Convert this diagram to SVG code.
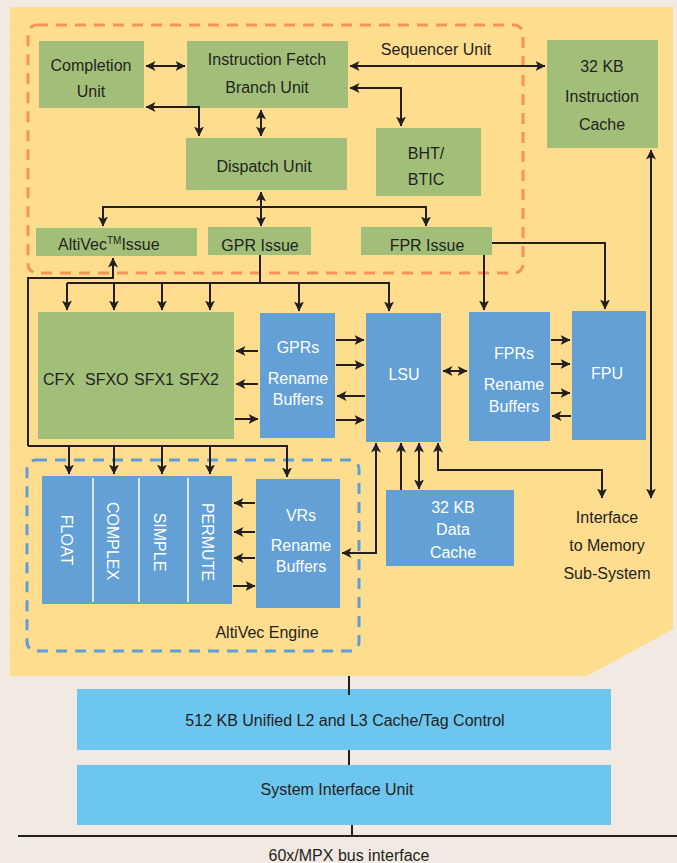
<svg xmlns="http://www.w3.org/2000/svg" width="677" height="863" viewBox="0 0 677 863">
<defs>
<style>
.g{fill:#A2BF7A}
.b{fill:#62A0D6}
.lb{fill:#6DC6EF}
text{font-family:"Liberation Sans",Arial,sans-serif;font-size:16px;fill:#231F20}
.c{text-anchor:middle}
.w{fill:#FFFFFF}
.ln{fill:none;stroke:#231F20;stroke-width:2}
.ar{marker-end:url(#ah)}
.ar2{marker-start:url(#ah);marker-end:url(#ah)}
.as{marker-start:url(#ah)}
</style>
<marker id="ah" viewBox="0 0 10 10" refX="9.5" refY="5" markerWidth="10" markerHeight="10" markerUnits="userSpaceOnUse" orient="auto-start-reverse">
<path d="M0,0 L10,5 L0,10 L2.5,5 z" fill="#231F20"/>
</marker>
</defs>
<rect x="0" y="0" width="677" height="863" fill="#F1E9E2"/>
<polygon points="10,7 673,7 673,629 587,676 10,676" fill="#FEDD8F"/>
<rect x="28" y="25" width="495" height="248" rx="9" fill="none" stroke="#F6935A" stroke-width="3" stroke-dasharray="11,8"/>
<rect x="27" y="460" width="332" height="191" rx="9" fill="none" stroke="#5E9ED8" stroke-width="3" stroke-dasharray="11,8"/>

<g id="completion"><rect class="g" x="39" y="41" width="105" height="67"/><text class="c" x="91" y="71">Completion</text><text class="c" x="91" y="97">Unit</text></g>
<g id="ifetch"><rect class="g" x="187" y="41" width="161" height="67"/><text class="c" x="267" y="65">Instruction Fetch</text><text class="c" x="267" y="93">Branch Unit</text></g>
<g id="dispatch"><rect class="g" x="186" y="138" width="161" height="52"/><text class="c" x="264" y="172">Dispatch Unit</text></g>
<g id="bht"><rect class="g" x="376" y="128" width="105" height="68"/><text class="c" x="426" y="159">BHT/</text><text class="c" x="426" y="185">BTIC</text></g>
<g id="icache"><rect class="g" x="547" y="40" width="111" height="108"/><text class="c" x="602" y="72">32 KB</text><text class="c" x="602" y="102">Instruction</text><text class="c" x="602" y="130">Cache</text></g>
<g id="seqlabel"><text class="c" x="436" y="55">Sequencer Unit</text></g>
<g id="altiissue"><rect class="g" x="36" y="228" width="161" height="28"/><text x="58" y="250">AltiVec<tspan font-size="10" dy="-6">TM</tspan><tspan dy="6">Issue</tspan></text></g>
<g id="gprissue"><rect class="g" x="208" y="227" width="103" height="28"/><text class="c" x="260" y="251">GPR Issue</text></g>
<g id="fprissue"><rect class="g" x="361" y="227" width="131" height="28"/><text class="c" x="427" y="251">FPR Issue</text></g>

<g id="cfx"><rect class="g" x="38" y="312" width="196" height="127"/><text x="43" y="385">CFX</text><text x="85" y="385">SFXO</text><text x="134" y="385">SFX1</text><text x="179" y="385">SFX2</text></g>
<g id="gprs"><rect class="b" x="260" y="313" width="75" height="125"/><text class="c w" x="298" y="353">GPRs</text><text class="c w" x="298" y="384">Rename</text><text class="c w" x="298" y="405">Buffers</text></g>
<g id="lsu"><rect class="b" x="366" y="313" width="75" height="129"/><text class="c w" x="404" y="380">LSU</text></g>
<g id="fprs"><rect class="b" x="469" y="312" width="81" height="129"/><text class="c w" x="514" y="359">FPRs</text><text class="c w" x="514" y="390">Rename</text><text class="c w" x="514" y="412">Buffers</text></g>
<g id="fpu"><rect class="b" x="572" y="311" width="74" height="129"/><text class="c w" x="607" y="379">FPU</text></g>

<g id="altivec"><rect class="b" x="42" y="476" width="190" height="128"/>
<path d="M93,478 V602 M139,478 V602 M188,478 V602" stroke="#FFFFFF" stroke-width="1.5"/>
<text class="c w" transform="translate(67,540) rotate(90)" x="0" y="6">FLOAT</text>
<text class="c w" transform="translate(113,541) rotate(90)" x="0" y="6">COMPLEX</text>
<text class="c w" transform="translate(160,542) rotate(90)" x="0" y="6">SIMPLE</text>
<text class="c w" transform="translate(208,542) rotate(90)" x="0" y="6">PERMUTE</text>
</g>
<g id="vrs"><rect class="b" x="256" y="479" width="84" height="129"/><text class="c w" x="301" y="521">VRs</text><text class="c w" x="301" y="551">Rename</text><text class="c w" x="301" y="572">Buffers</text></g>
<g id="altlabel"><text class="c" x="267" y="638">AltiVec Engine</text></g>
<g id="dcache"><rect class="b" x="386" y="490" width="128" height="76"/><text class="c w" x="453" y="513">32 KB</text><text class="c w" x="453" y="535">Data</text><text class="c w" x="453" y="558">Cache</text></g>
<g id="memif"><text class="c" x="607" y="523">Interface</text><text class="c" x="607" y="551">to Memory</text><text class="c" x="607" y="579">Sub-System</text></g>

<g id="l2"><rect class="lb" x="77" y="689" width="534" height="61"/><text class="c" x="345" y="726">512 KB Unified L2 and L3 Cache/Tag Control</text></g>
<g id="siu"><rect class="lb" x="77" y="765" width="534" height="60"/><text class="c" x="337" y="795">System Interface Unit</text></g>
<g id="bus"><text class="c" x="349" y="861">60x/MPX bus interface</text></g>

<g id="connectors">
<path class="ln ar2" d="M146,66 H185"/>
<path class="ln ar2" d="M146,107 H199 V136"/>
<path class="ln ar2" d="M261,110 V136"/>
<path class="ln ar2" d="M350,66 H545"/>
<path class="ln ar2" d="M350,88 H401 V126"/>
<path class="ln ar2" d="M261,192 V226"/>
<path class="ln ar2" d="M103,226 V207 H426 V226"/>
<path class="ln" d="M260,255 V283"/>
<path class="ln ar" d="M67,283 H389 V311"/>
<path class="ln ar" d="M67,283 V310"/>
<path class="ln ar" d="M114,283 V310"/>
<path class="ln ar" d="M162,283 V310"/>
<path class="ln ar" d="M210,283 V310"/>
<path class="ln ar" d="M299,283 V311"/>
<path class="ln ar" d="M484,255 V310"/>
<path class="ln ar" d="M492,243 H605 V309"/>
<path class="ln ar" d="M28,446 V278 H113 V258"/>
<path class="ln ar" d="M28,446 H287 V477"/>
<path class="ln ar" d="M69,446 V474"/>
<path class="ln ar" d="M114,446 V474"/>
<path class="ln ar" d="M162,446 V474"/>
<path class="ln ar" d="M210,446 V474"/>
<path class="ln ar" d="M258,351 H236"/>
<path class="ln ar" d="M258,384 H236"/>
<path class="ln ar" d="M235,419 H258"/>
<path class="ln ar" d="M336,340 H364"/>
<path class="ln ar" d="M336,365 H364"/>
<path class="ln ar" d="M365,396 H337"/>
<path class="ln ar" d="M336,420 H364"/>
<path class="ln ar2" d="M443,371 H467"/>
<path class="ln ar" d="M551,340 H570"/>
<path class="ln ar" d="M551,364 H570"/>
<path class="ln ar" d="M551,393 H570"/>
<path class="ln ar" d="M571,416 H552"/>
<path class="ln ar2" d="M651,150 V498"/>
<path class="ln ar2" d="M376,443 V553 H342"/>
<path class="ln ar" d="M401,490 V443"/>
<path class="ln ar2" d="M419,443 V489"/>
<path class="ln ar2" d="M438,443 V470 H602 V498"/>
<path class="ln ar" d="M255,503 H234"/>
<path class="ln ar" d="M255,532 H234"/>
<path class="ln ar" d="M255,558 H234"/>
<path class="ln ar" d="M233,586 H255"/>
<path class="ln" d="M349,676 V695" stroke-width="3"/>
<path class="ln" d="M349,750 V765" stroke-width="3"/>
<path class="ln" d="M352,825 V836" stroke-width="3"/>
<path class="ln" d="M18,836 H677" stroke-width="4"/>
</g>
</svg>
